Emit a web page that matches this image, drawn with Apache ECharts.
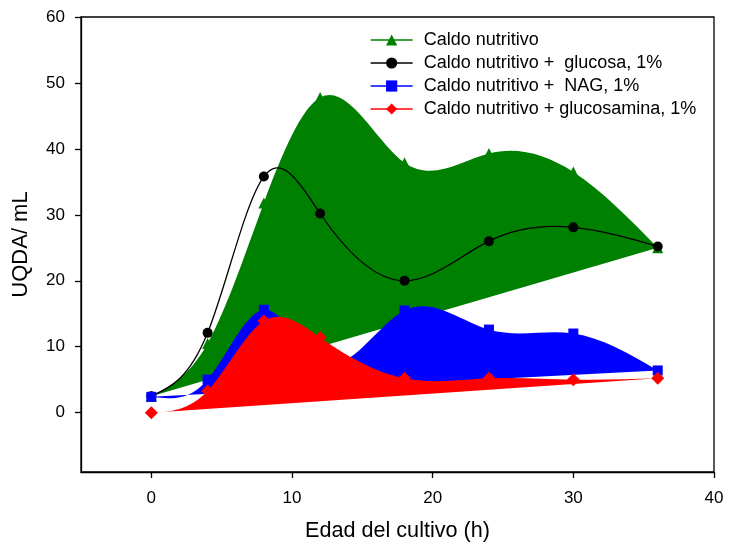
<!DOCTYPE html>
<html>
<head>
<meta charset="utf-8">
<script src="https://cdn.jsdelivr.net/npm/echarts@6/dist/echarts.min.js"></script>
<style>
  html, body { margin: 0; padding: 0; background: #fff; }
  #chart { width: 734px; height: 544px; }
</style>
</head>
<body>
<div id="chart"></div>
<script>
// Edad del cultivo (h)
const horas = [0, 4, 8, 12, 18, 24, 30, 36];
// UQDA/ mL por medio de cultivo
const caldo       = [2.5, 10.5, 31.8, 47.8, 37.9, 39.3, 36.5, 25.0];
const glucosa     = [2.5, 12.1, 35.8, 30.2, 20.0, 26.0, 28.1, 25.2];
const nag         = [2.4, 5.0, 15.6, 7.8, 15.5, 12.6, 12.0, 6.4];
const glucosamina = [0.0, 3.3, 13.9, 11.4, 5.2, 5.2, 5.0, 5.2];

const nombres = [
  'Caldo nutritivo',
  'Caldo nutritivo +  glucosa, 1%',
  'Caldo nutritivo +  NAG, 1%',
  'Caldo nutritivo + glucosamina, 1%'
];
const ticksX = [0, 10, 20, 30, 40];
const ticksY = [0, 10, 20, 30, 40, 50, 60];

const FONT = '"Liberation Sans", Arial, sans-serif';
const VERDE = '#008000', NEGRO = '#000000', AZUL = '#0000ff', ROJO = '#ff0000';

// Pendientes de un spline cúbico natural (segunda derivada nula en los extremos)
function pendientesSpline(xs, ys) {
  const n = xs.length;
  const h = [];
  for (let i = 0; i < n - 1; i++) h.push(xs[i + 1] - xs[i]);
  const M = new Array(n).fill(0);
  if (n > 2) {
    const a = [], b = [], c = [], d = [];
    for (let i = 1; i < n - 1; i++) {
      a.push(h[i - 1]);
      b.push(2 * (h[i - 1] + h[i]));
      c.push(h[i]);
      d.push(6 * ((ys[i + 1] - ys[i]) / h[i] - (ys[i] - ys[i - 1]) / h[i - 1]));
    }
    const m = b.length;
    for (let i = 1; i < m; i++) {
      const w = a[i] / b[i - 1];
      b[i] -= w * c[i - 1];
      d[i] -= w * d[i - 1];
    }
    const sol = new Array(m);
    sol[m - 1] = d[m - 1] / b[m - 1];
    for (let i = m - 2; i >= 0; i--) sol[i] = (d[i] - c[i] * sol[i + 1]) / b[i];
    for (let i = 0; i < m; i++) M[i + 1] = sol[i];
  }
  const s = [];
  for (let i = 0; i < n - 1; i++) s.push((ys[i + 1] - ys[i]) / h[i] - h[i] * (2 * M[i] + M[i + 1]) / 6);
  s.push((ys[n - 1] - ys[n - 2]) / h[n - 2] + h[n - 2] * (M[n - 2] + 2 * M[n - 1]) / 6);
  return s;
}

// Forma: tramos Bézier del spline; si "cerrada", se une el último punto con el primero en línea recta
echarts.graphic.registerShape('curvaSpline', echarts.graphic.extendShape({
  shape: { segs: [], cerrada: false },
  buildPath: function (ctx, shape) {
    const g = shape.segs;
    if (!g.length) return;
    ctx.moveTo(g[0][0], g[0][1]);
    for (let i = 1; i < g.length; i++) {
      const p = g[i];
      ctx.bezierCurveTo(p[0], p[1], p[2], p[3], p[4], p[5]);
    }
    if (shape.cerrada) ctx.closePath();
  }
}));

function pares(ys) { return horas.map((x, i) => [x, ys[i]]); }

function serieCurva(ys, estilo, cerrada, z) {
  return {
    type: 'custom',
    coordinateSystem: 'cartesian2d',
    data: pares(ys),
    z: z,
    silent: true,
    clip: true,
    animation: false,
    renderItem: function (params, api) {
      if (params.dataIndex !== 0) return null;
      const n = ys.length;
      const xs = [], vs = [];
      for (let i = 0; i < n; i++) { xs.push(api.value(0, i)); vs.push(api.value(1, i)); }
      const s = pendientesSpline(xs, vs);
      const segs = [api.coord([xs[0], vs[0]])];
      for (let i = 0; i < n - 1; i++) {
        const h = xs[i + 1] - xs[i];
        const c1 = api.coord([xs[i] + h / 3, vs[i] + s[i] * h / 3]);
        const c2 = api.coord([xs[i + 1] - h / 3, vs[i + 1] - s[i + 1] * h / 3]);
        const p = api.coord([xs[i + 1], vs[i + 1]]);
        segs.push([c1[0], c1[1], c2[0], c2[1], p[0], p[1]]);
      }
      return { type: 'curvaSpline', shape: { segs: segs, cerrada: cerrada }, style: estilo };
    }
  };
}

function serieMarcas(nombre, ys, color, simbolo, tam, z) {
  return {
    type: 'line',
    name: nombre,
    data: pares(ys),
    symbol: simbolo,
    symbolSize: tam,
    showSymbol: true,
    lineStyle: { width: 0, color: color },
    itemStyle: { color: color },
    z: z,
    silent: true,
    animation: false
  };
}

const chart = echarts.init(document.getElementById('chart'), null, { renderer: 'canvas' });

chart.setOption({
  backgroundColor: '#fff',
  animation: false,
  textStyle: { fontFamily: FONT },
  grid: {
    left: 81, right: 20, top: 17, bottom: 72,
    outerBoundsMode: 'none',
    show: true, borderColor: '#000', borderWidth: 1.3
  },
  legend: {
    data: nombres,
    orient: 'vertical',
    left: 370,
    top: 31,
    padding: 0,
    itemWidth: 42,
    itemHeight: 14,
    itemGap: 5,
    lineStyle: { width: 1.3, opacity: 1 },
    textStyle: { fontFamily: FONT, fontSize: 18, color: '#000', lineHeight: 18, padding: [0, 0, 0, 6] }
  },
  xAxis: {
    type: 'value',
    min: -5,
    max: 40,
    name: 'Edad del cultivo (h)',
    nameLocation: 'middle',
    nameGap: 48,
    nameTextStyle: { fontFamily: FONT, fontSize: 21.6, color: '#000' },
    axisLine: { show: true, onZero: false, lineStyle: { color: '#000', width: 1.3 } },
    axisTick: { show: true, length: 6, customValues: ticksX, lineStyle: { color: '#000', width: 1.3 } },
    axisLabel: { customValues: ticksX, fontFamily: FONT, fontSize: 17, color: '#000', margin: 18 },
    splitLine: { show: false }
  },
  yAxis: {
    type: 'value',
    min: -9,
    max: 60,
    name: 'UQDA/ mL',
    nameLocation: 'middle',
    nameGap: 49,
    nameTextStyle: { fontFamily: FONT, fontSize: 22, color: '#000' },
    axisLine: { show: true, onZero: false, lineStyle: { color: '#000', width: 1.3 } },
    axisTick: { show: true, length: 6, customValues: ticksY, lineStyle: { color: '#000', width: 1.3 } },
    axisLabel: { customValues: ticksY, fontFamily: FONT, fontSize: 17, color: '#000', margin: 16 },
    splitLine: { show: false }
  },
  series: [
    serieCurva(caldo, { fill: VERDE, stroke: null }, true, 2),
    serieMarcas(nombres[0], caldo, VERDE, 'triangle', 11, 3),
    serieCurva(glucosa, { fill: null, stroke: NEGRO, lineWidth: 1.3 }, false, 4),
    serieMarcas(nombres[1], glucosa, NEGRO, 'circle', 10, 5),
    serieCurva(nag, { fill: AZUL, stroke: null }, true, 6),
    serieMarcas(nombres[2], nag, AZUL, 'rect', 10, 7),
    serieCurva(glucosamina, { fill: ROJO, stroke: null }, true, 8),
    serieMarcas(nombres[3], glucosamina, ROJO, 'diamond', 13, 9)
  ]
});
</script>
</body>
</html>
